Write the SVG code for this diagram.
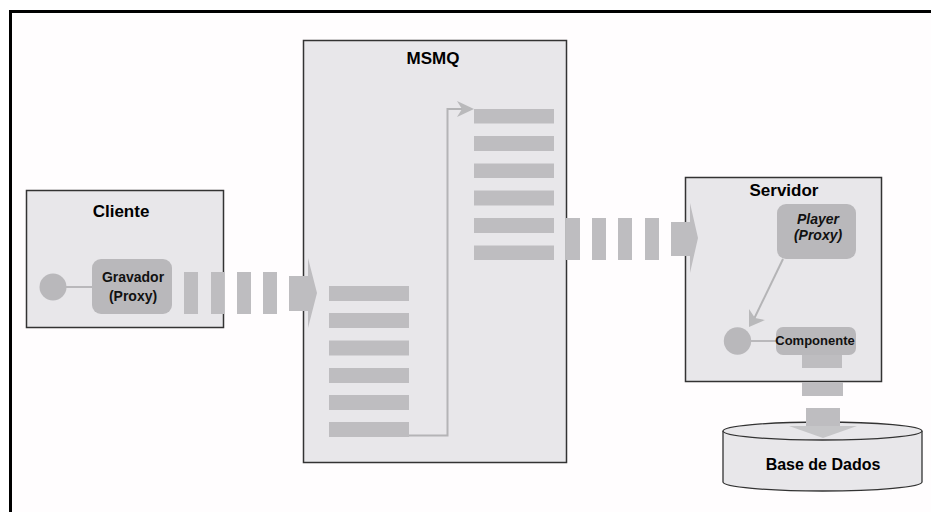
<svg xmlns="http://www.w3.org/2000/svg" width="931" height="512" viewBox="0 0 931 512">
<style>
.box{fill:#e8e7ea;stroke:#333333;stroke-width:1.5}
.bar{fill:#bebdc0}
.pill{fill:#b9b8bb}
.title{font-family:"Liberation Sans",Arial,sans-serif;font-weight:bold;font-size:17px;fill:#000;text-anchor:middle}
.lbl{font-family:"Liberation Sans",Arial,sans-serif;font-weight:bold;font-size:14px;fill:#111;text-anchor:middle}
.line{fill:none;stroke:#b4b4b6;stroke-width:2}
.head{fill:#b9b9bb}
</style>
<rect x="0" y="0" width="931" height="512" fill="#ffffff"/>
<rect x="10.5" y="11.5" width="930" height="510" fill="#fffdfe" stroke="#000" stroke-width="3"/>

<g id="cliente">
<rect class="box" x="26.5" y="190.5" width="197" height="137"/>
<text class="title" x="121" y="217">Cliente</text>
<circle class="pill" cx="53" cy="287" r="13.5"/>
<line x1="66" y1="287" x2="93" y2="287" stroke="#b9b8bb" stroke-width="2"/>
</g>
<g id="gravador">
<rect class="pill" x="92" y="259" width="80" height="55" rx="9"/>
<text class="lbl" x="133" y="282">Gravador</text>
<text class="lbl" x="133" y="301">(Proxy)</text>
</g>

<g id="msmq">
<rect class="box" x="303.5" y="40.5" width="263" height="422"/>
<text class="title" x="433" y="64">MSMQ</text>
<g class="bar">
<rect x="329" y="286" width="80" height="15"/>
<rect x="329" y="313" width="80" height="15"/>
<rect x="329" y="340.5" width="80" height="15"/>
<rect x="329" y="368" width="80" height="15"/>
<rect x="329" y="395" width="80" height="15"/>
<rect x="329" y="422" width="80" height="15"/>
<rect x="474" y="109" width="80" height="14.5"/>
<rect x="474" y="136" width="80" height="15"/>
<rect x="474" y="163.5" width="80" height="14.5"/>
<rect x="474" y="190.5" width="80" height="15"/>
<rect x="474" y="218" width="80" height="15"/>
<rect x="474" y="245.5" width="80" height="14.5"/>
</g>
</g>

<g id="servidor">
<rect class="box" x="685.5" y="177.5" width="196" height="204"/>
<text class="title" x="784" y="196">Servidor</text>
<circle class="pill" cx="737.5" cy="341" r="13.7"/>
<line x1="751" y1="341" x2="777" y2="341" stroke="#b9b8bb" stroke-width="2"/>
</g>
<g id="player">
<rect class="pill" x="777" y="204" width="79" height="55" rx="9"/>
<text class="lbl" x="818" y="224" font-style="italic">Player</text>
<text class="lbl" x="818" y="240" font-style="italic">(Proxy)</text>
</g>
<g id="componente">
<rect class="pill" x="776" y="327" width="80" height="28" rx="7"/>
<text class="lbl" x="815" y="345" style="font-size:13px">Componente</text>
</g>

<g id="base-de-dados">
<path d="M723,431 V482 A99.5,9 0 0 0 922,482 V431" fill="#e8e7ea" stroke="#333333" stroke-width="1.3"/>
<ellipse cx="822.5" cy="431" rx="99.5" ry="9" fill="#e8e7ea" stroke="#333333" stroke-width="1.3"/>
<text class="title" x="823" y="470" style="font-size:16px">Base de Dados</text>
</g>

<g id="connectors">
<g class="bar">
<rect x="184" y="272" width="14" height="42"/>
<rect x="211" y="272" width="13.5" height="42"/>
<rect x="237" y="272" width="14" height="42"/>
<rect x="263" y="272" width="14" height="42"/>
<path d="M289,276 H308 V258 L317,293 L308,328 V311 H289 Z"/>
<rect x="566" y="218" width="14" height="42"/>
<rect x="592" y="218" width="14" height="42"/>
<rect x="618" y="218" width="14" height="42"/>
<rect x="645" y="218" width="14" height="42"/>
<path d="M671,222 H690 V203 L698,238 L690,273 V256 H671 Z"/>
<rect x="802" y="355" width="40" height="13"/>
<rect x="802" y="382" width="41" height="14"/>
<rect x="806" y="408" width="34" height="19"/>
</g>
<path d="M789,426 H857 L823,438 Z" fill="#c6c6c8"/>
<path class="line" d="M409,435.5 H447.5 V109 H464"/>
<path class="head" d="M457,101 L474,109 L457,117 L462,109 Z"/>
<line class="line" x1="783" y1="259" x2="754" y2="319" stroke-width="1.6"/>
<path class="head" d="M749,327 L749,309 L755,318 L765,320 Z"/>
</g>
</svg>
